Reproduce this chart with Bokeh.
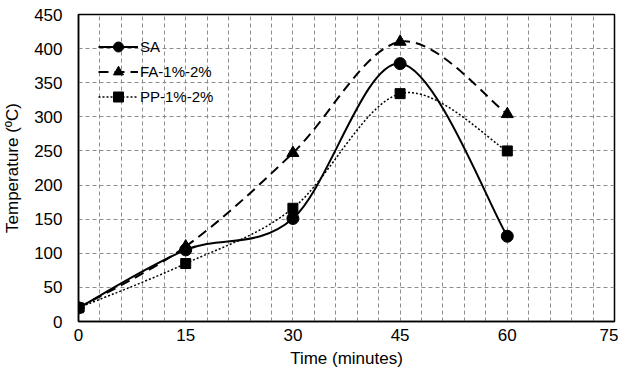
import numpy as np
from bokeh.plotting import figure
from bokeh.models import Range1d, FixedTicker, Legend, LegendItem, ColumnDataSource
from bokeh.embed import file_html
from bokeh.resources import INLINE

time = [0, 15, 30, 45, 60]
sa = [20, 105, 151, 378, 125]
fa = [20, 110, 247, 410, 304]
pp = [20, 85, 166, 334, 250]
x_ticks = [0, 15, 30, 45, 60, 75]
y_ticks = [0, 50, 100, 150, 200, 250, 300, 350, 400, 450]

FONT = "Liberation Sans"

p = figure(width=618, height=370, output_backend="svg", toolbar_location=None,
           x_range=Range1d(0, 75), y_range=Range1d(0, 450),
           min_border_left=78, min_border_right=4, min_border_top=14, min_border_bottom=40)

p.background_fill_color = "white"
p.border_fill_color = "white"
p.outline_line_color = "black"
p.outline_line_width = 1.5

p.xaxis.ticker = FixedTicker(ticks=x_ticks)
p.yaxis.ticker = FixedTicker(ticks=y_ticks)
p.xgrid.ticker = FixedTicker(ticks=list(range(3, 75, 3)))
p.ygrid.ticker = FixedTicker(ticks=y_ticks[1:-1])
for g in (p.xgrid, p.ygrid):
    g.grid_line_color = "#8c8c8c"
    g.grid_line_dash = "4 3"
    g.grid_line_width = 1

for ax in (p.xaxis, p.yaxis):
    ax.axis_line_color = "black"
    ax.axis_line_width = 1.5
    ax.major_tick_line_color = None
    ax.minor_tick_line_color = None
    ax.major_label_text_font = FONT
    ax.major_label_text_font_size = "17px"
    ax.major_label_text_color = "black"
    ax.axis_label_text_font = FONT
    ax.axis_label_text_font_size = "17px"
    ax.axis_label_text_font_style = "normal"
    ax.axis_label_text_color = "black"

p.xaxis.axis_label = "Time (minutes)"
p.yaxis.axis_label = "Temperature (ºC)"
p.xaxis.major_label_standoff = 1
p.yaxis.major_label_standoff = 10
p.xaxis.axis_label_standoff = 5
p.yaxis.axis_label_standoff = 9


def smooth_segments(xs, ys):
    P = np.column_stack([np.asarray(xs, float), np.asarray(ys, float)])
    n = len(P)
    ext = np.vstack([P[0], P, P[-1]])
    x0, y0, x1, y1, cx0, cy0, cx1, cy1 = [], [], [], [], [], [], [], []
    for i in range(n - 1):
        pm, a, b, pn = ext[i], ext[i + 1], ext[i + 2], ext[i + 3]
        c0 = a + (b - pm) / 6.0
        c1 = b - (pn - a) / 6.0
        x0.append(a[0]); y0.append(a[1]); x1.append(b[0]); y1.append(b[1])
        cx0.append(c0[0]); cy0.append(c0[1]); cx1.append(c1[0]); cy1.append(c1[1])
    return ColumnDataSource(dict(x0=x0, y0=y0, x1=x1, y1=y1, cx0=cx0, cy0=cy0, cx1=cx1, cy1=cy1))


series = [
    ("SA", sa, dict(line_dash="solid", line_width=2), "circle", 12),
    ("FA-1%-2%", fa, dict(line_dash="10 6", line_width=2), "triangle", 12),
    ("PP-1%-2%", pp, dict(line_dash="2 2", line_width=1.5), "square", 10),
]

items = []
for name, ys, lstyle, marker, size in series:
    src = smooth_segments(time, ys)
    r1 = p.bezier(x0="x0", y0="y0", x1="x1", y1="y1", cx0="cx0", cy0="cy0",
                  cx1="cx1", cy1="cy1", source=src, line_color="black", **lstyle)
    r2 = p.scatter(time, ys, marker=marker, size=size, fill_color="black", line_color="black")
    items.append((name, r1, r2))

legend_items = []
for name, r1, r2 in items:
    legend_items.append(LegendItem(label=name, renderers=[r1, r2]))

legend = Legend(items=legend_items, location="top_left")
legend.border_line_color = None
legend.background_fill_alpha = 0
legend.label_text_font = FONT
legend.label_text_font_size = "15px"
legend.label_text_color = "black"
legend.glyph_width = 40
legend.glyph_height = 25
legend.label_height = 25
legend.spacing = 0
legend.padding = 7
legend.margin = 20
legend.label_standoff = 2
p.add_layout(legend)

open("out.html", "w").write(file_html(p, INLINE))
